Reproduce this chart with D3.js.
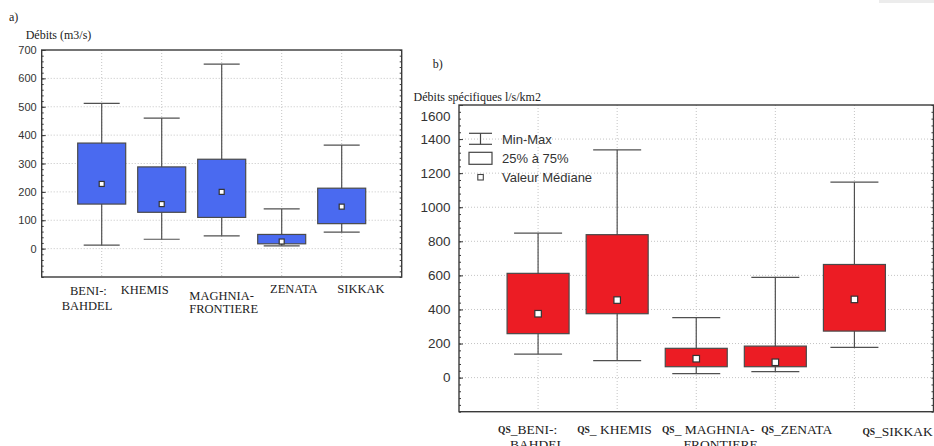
<!DOCTYPE html>
<html>
<head>
<meta charset="utf-8">
<script src="https://cdn.jsdelivr.net/npm/d3@7/dist/d3.min.js"></script>
<style>
  body { margin: 0; background: #fff; }
  svg { display: block; }
</style>
</head>
<body>
<svg id="chart" width="934" height="446"></svg>
<script>
// ---- a) Débits (m3/s) ----
const stationsA = ["BENI-BAHDEL", "KHEMIS", "MAGHNIA-FRONTIERE", "ZENATA", "SIKKAK"];
const labelLinesA = [["BENI-:", "BAHDEL"], ["KHEMIS"], ["MAGHNIA-", "FRONTIERE"], ["ZENATA"], ["SIKKAK"]];
const minA = [12, 33, 45, 10, 58];
const q1A = [157, 128, 110, 17, 88];
const medianA = [228, 157, 200, 25, 148];
const q3A = [372, 288, 315, 50, 213];
const maxA = [512, 460, 650, 140, 365];
const ticksA = [0, 100, 200, 300, 400, 500, 600, 700];

// ---- b) Débits spécifiques l/s/km2 ----
const stationsB = ["Qs_BENI-BAHDEL", "Qs_KHEMIS", "Qs_MAGHNIA-FRONTIERE", "Qs_ZENATA", "Qs_SIKKAK"];
const prefixB = "QS";
const labelLinesB = [["_BENI-:", "BAHDEL"], ["_ KHEMIS"], ["_ MAGHNIA-", "FRONTIERE"], ["_ZENATA"], ["_SIKKAK"]];
const minB = [138, 100, 23, 35, 178];
const q1B = [258, 375, 64, 64, 273];
const medianB = [375, 455, 111, 90, 459];
const q3B = [612, 839, 172, 185, 664];
const maxB = [848, 1337, 352, 588, 1147];
const ticksB = [0, 200, 400, 600, 800, 1000, 1200, 1400, 1600];

const legendItems = ["Min-Max", "25% à 75%", "Valeur Médiane"];

const svg = d3.select("#chart");
const SERIF = "'Liberation Serif', 'Times New Roman', serif";
const SANS = "'Liberation Sans', Arial, sans-serif";

// light strip in the upper-right corner
svg.append("rect").attr("x", 879).attr("y", 0).attr("width", 55).attr("height", 3).attr("fill", "#ececec");

function boxPanel(cfg) {
  const g = svg.append("g");
  const x = d3.scalePoint().domain(cfg.stations).range([cfg.left, cfg.right]).padding(1);
  const y = d3.scaleLinear().domain(cfg.domain).range([cfg.bottom, cfg.top]);

  // dotted grid
  g.append("g").selectAll("line").data(cfg.ticks.filter(t => t < cfg.domain[1]))
    .join("line")
    .attr("x1", cfg.left).attr("x2", cfg.right)
    .attr("y1", d => y(d)).attr("y2", d => y(d))
    .attr("stroke", "#c4c4c4").attr("stroke-width", 1).attr("stroke-dasharray", "1,2");
  g.append("g").selectAll("line").data(cfg.stations)
    .join("line")
    .attr("x1", d => x(d)).attr("x2", d => x(d))
    .attr("y1", cfg.top).attr("y2", cfg.bottom)
    .attr("stroke", "#c4c4c4").attr("stroke-width", 1).attr("stroke-dasharray", "1,2");

  const rows = cfg.stations.map((s, i) => ({
    s, min: cfg.min[i], q1: cfg.q1[i], med: cfg.med[i], q3: cfg.q3[i], max: cfg.max[i]
  }));

  const boxes = g.append("g").selectAll("g").data(rows).join("g");
  // whiskers
  boxes.append("line")
    .attr("x1", d => x(d.s)).attr("x2", d => x(d.s))
    .attr("y1", d => y(d.max)).attr("y2", d => y(d.min))
    .attr("stroke", "#505050").attr("stroke-width", 1.2);
  boxes.append("line")
    .attr("x1", d => x(d.s) - cfg.capW / 2).attr("x2", d => x(d.s) + cfg.capW / 2)
    .attr("y1", d => y(d.max)).attr("y2", d => y(d.max))
    .attr("stroke", "#505050").attr("stroke-width", 1.2);
  boxes.append("line")
    .attr("x1", d => x(d.s) - cfg.capW / 2).attr("x2", d => x(d.s) + cfg.capW / 2)
    .attr("y1", d => y(d.min)).attr("y2", d => y(d.min))
    .attr("stroke", "#505050").attr("stroke-width", 1.2);
  // interquartile boxes
  boxes.append("rect")
    .attr("x", d => x(d.s) - cfg.boxW / 2).attr("width", cfg.boxW)
    .attr("y", d => y(d.q3)).attr("height", d => y(d.q1) - y(d.q3))
    .attr("fill", cfg.fill).attr("stroke", "#4a4a4a").attr("stroke-width", 1.2);
  // medians
  boxes.append("rect")
    .attr("x", d => x(d.s) - cfg.medSize / 2).attr("y", d => y(d.med) - cfg.medSize / 2)
    .attr("width", cfg.medSize).attr("height", cfg.medSize)
    .attr("fill", "#fff").attr("stroke", "#333").attr("stroke-width", 1.2);

  // frame
  g.append("rect")
    .attr("x", cfg.left).attr("y", cfg.top)
    .attr("width", cfg.right - cfg.left).attr("height", cfg.bottom - cfg.top)
    .attr("fill", "none").attr("stroke", "#3a3a3a").attr("stroke-width", 1.4);

  // y axis with labels and inside ticks
  const axis = g.append("g").attr("transform", `translate(${cfg.left},0)`)
    .call(d3.axisLeft(y).tickValues(cfg.ticks).tickFormat(d3.format("d")).tickSize(-4).tickPadding(cfg.tickPad));
  axis.select(".domain").remove();
  axis.selectAll("line").attr("stroke", "#3a3a3a");
  axis.selectAll("text").attr("font-family", SANS).attr("font-size", cfg.tickFont).attr("fill", "#333");

  const minor = d3.range(cfg.domain[0], cfg.domain[1] + 1e-6, cfg.minorStep);
  const mL = g.append("g").attr("transform", `translate(${cfg.left},0)`)
    .call(d3.axisLeft(y).tickValues(minor).tickSize(-2).tickFormat(""));
  mL.select(".domain").remove();
  mL.selectAll("line").attr("stroke", "#3a3a3a");
  const mR = g.append("g").attr("transform", `translate(${cfg.right},0)`)
    .call(d3.axisRight(y).tickValues(minor).tickSize(-2).tickFormat(""));
  mR.select(".domain").remove();
  mR.selectAll("line").attr("stroke", "#3a3a3a");

  return { g, x, y, axis };
}

// ---- panel a ----
const pa = boxPanel({
  stations: stationsA, min: minA, q1: q1A, med: medianA, q3: q3A, max: maxA,
  ticks: ticksA, domain: [-100, 700], minorStep: 20,
  left: 41.7, right: 401.7, top: 50, bottom: 277,
  boxW: 48, capW: 36, medSize: 5, fill: "#4a6af0",
  tickFont: 11, tickPad: 5
});

svg.append("text").attr("x", 9).attr("y", 21).text("a)")
  .attr("font-family", SERIF).attr("font-size", 12).attr("fill", "#222");
svg.append("text").attr("x", 25.7).attr("y", 39).text("Débits (m3/s)")
  .attr("font-family", SERIF).attr("font-size", 12).attr("fill", "#222");

// label placement: [dx from category, baseline below plot] per line
const labelPosA = [[[-31.7, 18], [-40, 33]], [[-41, 17.3]], [[-32.4, 23], [-32.4, 36.3]], [[-11.7, 16.3]], [[-4.4, 16.3]]];
stationsA.forEach((s, i) => {
  labelLinesA[i].forEach((line, j) => {
    const [dx, dy] = labelPosA[i][j];
    svg.append("text")
      .attr("x", pa.x(s) + dx).attr("y", 277 + dy)
      .text(line)
      .attr("font-family", SERIF).attr("font-size", 12.5).attr("fill", "#222");
  });
});

// ---- panel b ----
const pb = boxPanel({
  stations: stationsB, min: minB, q1: q1B, med: medianB, q3: q3B, max: maxB,
  ticks: ticksB, domain: [-200, 1600], minorStep: 40,
  left: 459, right: 933.5, top: 105, bottom: 411.7,
  boxW: 62, capW: 48, medSize: 6.5, fill: "#ec1c24",
  tickFont: 13.5, tickPad: 8.5
});
// top label sits just inside the frame
pb.axis.selectAll(".tick").filter(d => d === 1600).select("text").attr("dy", "1.15em");

svg.append("text").attr("x", 432.7).attr("y", 68).text("b)")
  .attr("font-family", SERIF).attr("font-size", 12).attr("fill", "#222");
svg.append("text").attr("x", 413.6).attr("y", 100.5).text("Débits spécifiques l/s/km2")
  .attr("font-family", SERIF).attr("font-size", 12).attr("fill", "#222");

// [dx from category, baseline below plot] per line
const labelPosB = [[[-40, 22.3], [-28, 37.5]], [[-40, 22.3]], [[-34.3, 22.3], [-12.7, 37.5]], [[-14, 22.3]], [[8, 24.3]]];
stationsB.forEach((s, i) => {
  labelLinesB[i].forEach((line, j) => {
    const [dx, dy] = labelPosB[i][j];
    const t = svg.append("text")
      .attr("x", pb.x(s) + dx).attr("y", 411.7 + dy)
      .attr("font-family", SERIF).attr("font-size", 13.5).attr("fill", "#222");
    if (j === 0) {
      t.append("tspan").text(prefixB).attr("font-size", 9.5).attr("font-weight", "bold").attr("dy", -1.5);
      t.append("tspan").text(line).attr("dy", 1.5);
    } else {
      t.text(line);
    }
  });
});

// legend
const lg = svg.append("g").attr("transform", "translate(469,0)");
const ly = [139.3, 158.3, 177.3];
// Min-Max symbol
lg.append("line").attr("x1", 0).attr("x2", 23).attr("y1", ly[0] - 6).attr("y2", ly[0] - 6).attr("stroke", "#444").attr("stroke-width", 1.2);
lg.append("line").attr("x1", 0).attr("x2", 23).attr("y1", ly[0] + 5).attr("y2", ly[0] + 5).attr("stroke", "#444").attr("stroke-width", 1.2);
lg.append("line").attr("x1", 11.5).attr("x2", 11.5).attr("y1", ly[0] - 6).attr("y2", ly[0] + 5).attr("stroke", "#444").attr("stroke-width", 1.2);
// 25-75 box symbol
lg.append("rect").attr("x", 0).attr("y", ly[1] - 6).attr("width", 23).attr("height", 12)
  .attr("fill", "#fff").attr("stroke", "#444").attr("stroke-width", 1.2);
// median symbol
lg.append("rect").attr("x", 8.8).attr("y", ly[2] - 2.8).attr("width", 5.5).attr("height", 5.5)
  .attr("fill", "#fff").attr("stroke", "#444").attr("stroke-width", 1.1);
lg.selectAll("text").data(legendItems).join("text")
  .attr("x", 33).attr("y", (d, i) => ly[i] + 4.6)
  .text(d => d)
  .attr("font-family", SANS).attr("font-size", 13).attr("fill", "#333");
</script>
</body>
</html>
